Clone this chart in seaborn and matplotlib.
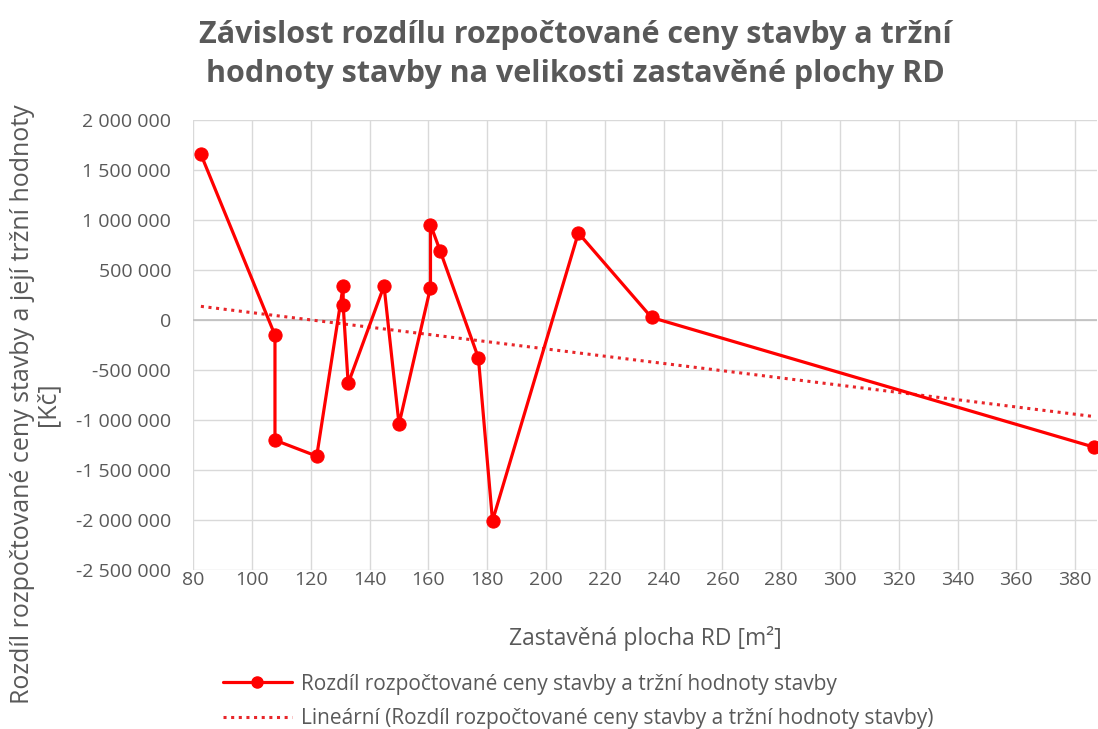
import numpy as np
import pandas as pd
import matplotlib
matplotlib.use('Agg')
import matplotlib.pyplot as plt
from matplotlib.ticker import FuncFormatter, MultipleLocator
from matplotlib.lines import Line2D
import seaborn as sns

# data (order as plotted by Excel)
plocha = [82.6, 107.8, 107.8, 122.0, 131.0, 131.0, 132.7, 144.9, 150.0,
          160.7, 160.7, 164.0, 177.0, 181.8, 211.0, 235.9, 386.4]
rozdil = [1660000, -150000, -1200000, -1360000, 343000, 150000, -633000, 343000, -1040000,
          327000, 957000, 693000, -377000, -2007000, 873000, 27000, -1270000]

series_label = 'Rozdíl rozpočtované ceny stavby a tržní hodnoty stavby'
trend_label = 'Lineární (Rozdíl rozpočtované ceny stavby a tržní hodnoty stavby)'

df = pd.DataFrame({'plocha': plocha, 'rozdil': rozdil})

sns.set_theme(style='white')
plt.rcParams['font.family'] = ['Open Sans', 'DejaVu Sans']

RED = '#ff0000'
TREND = '#e8262a'
GREY = '#595959'

fig = plt.figure(figsize=(10.98, 7.29), dpi=100)
ax = fig.add_axes([0.176, 0.218, 0.823, 0.617])

sns.regplot(data=df, x='plocha', y='rozdil', scatter=False, ci=None, ax=ax,
            line_kws={'color': TREND, 'ls': (0, (1, 1.5)), 'lw': 2.2})
sns.lineplot(data=df, x='plocha', y='rozdil', sort=False, estimator=None, ax=ax,
             color=RED, lw=2.3, marker='o', markersize=9.5, markeredgecolor=RED,
             clip_on=False, zorder=5)

ax.set_xlim(80, 387.4)
ax.set_ylim(-2500000, 2000000)
ax.xaxis.set_major_locator(MultipleLocator(20))
ax.yaxis.set_major_locator(MultipleLocator(500000))
ax.yaxis.set_major_formatter(FuncFormatter(lambda v, p: f'{int(v):,}'.replace(',', ' ')))
ax.grid(True, color='#d9d9d9', lw=1)
ax.axhline(0, color='#bfbfbf', lw=1.2, zorder=1)
for s in ax.spines.values():
    s.set_visible(False)
ax.tick_params(axis='both', labelsize=14, colors=GREY, length=0)
ax.tick_params(axis='y', pad=16)
ax.tick_params(axis='x', pad=1)

ax.set_xlabel('Zastavěná plocha RD [m²]', fontsize=16.5, color=GREY, labelpad=26)
ax.set_ylabel('')
fig.text(0.032, 0.446, 'Rozdíl rozpočtované ceny stavby a její tržní hodnoty\n[Kč]',
         rotation=90, ha='center', va='center', fontsize=18, color=GREY,
         multialignment='center', linespacing=1.0)

fig.suptitle('Závislost rozdílu rozpočtované ceny stavby a tržní\nhodnoty stavby na velikosti zastavěné plochy RD',
             x=0.524, y=0.973, fontsize=22, fontweight='bold', color=GREY, linespacing=1.4)

handles = [Line2D([], [], color=RED, lw=2.3, marker='o', markersize=8),
           Line2D([], [], color=TREND, lw=2.2, ls=(0, (1, 1.5)))]
fig.legend(handles, [series_label, trend_label], loc='lower left',
           bbox_to_anchor=(0.186, -0.026), frameon=False, fontsize=15,
           labelcolor=GREY, handlelength=3.3, labelspacing=0.65, handletextpad=0.45)

fig.savefig('out.png', dpi=100)
